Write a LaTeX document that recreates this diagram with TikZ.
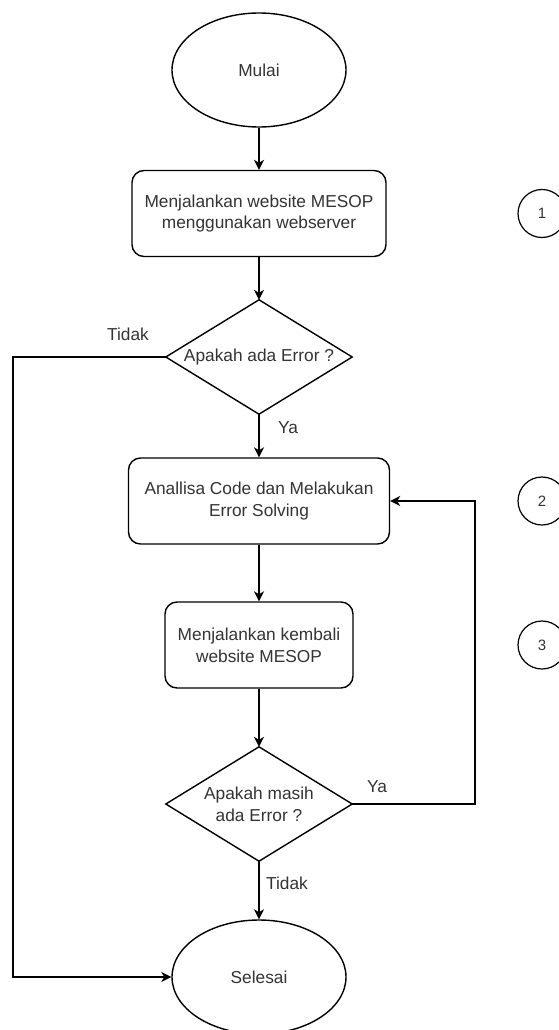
\documentclass[tikz,border=0pt]{standalone}
\usepackage{fontspec}
\setmainfont{Liberation Sans}
\usetikzlibrary{shapes.geometric,arrows.meta}
\definecolor{txt}{HTML}{333333}
\begin{document}
\begin{tikzpicture}[x=1pt,y=-1pt,
  every node/.style={font=\fontsize{17.3}{21.7}\selectfont, text=txt},
  line/.style={line width=1.4pt, draw=black},
  arr/.style={line, -{Stealth[length=10pt,width=10pt,inset=3pt]}},
  term/.style={ellipse, draw=black, line width=1.4pt, minimum width=174pt, minimum height=114pt, inner sep=0pt},
  proc/.style={rectangle, draw=black, line width=1.4pt, rounded corners=12pt, minimum height=86pt, inner sep=0pt, align=center},
  decbox/.style={rectangle, minimum width=186pt, minimum height=114pt, inner sep=0pt, align=center},
  num/.style={circle, draw=black, line width=1.2pt, minimum size=48pt, inner sep=0pt, font=\fontsize{15}{18}\selectfont},
  lbl/.style={inner sep=0pt}
]
\useasboundingbox (0,0) rectangle (558,1030);

\node[term] (start) at (259,70) {Mulai};
\node[proc, minimum width=254pt] (p1) at (259,213.5) {Menjalankan website MESOP\\menggunakan webserver};
\node[decbox] (d1) at (259,357) {Apakah ada Error ?};
\draw[line, line join=miter] (d1.north) -- (d1.east) -- (d1.south) -- (d1.west) -- cycle;
\node[proc, minimum width=261pt] (p2) at (259,501) {Anallisa Code dan Melakukan\\Error Solving};
\node[proc, minimum width=188pt] (p3) at (259,645) {Menjalankan kembali\\website MESOP};
\node[decbox] (d2) at (259,804) {Apakah masih\\ada Error ?};
\draw[line, line join=miter] (d2.north) -- (d2.east) -- (d2.south) -- (d2.west) -- cycle;
\node[term] (end) at (259,977) {Selesai};

\coordinate (ltop) at (13,357);
\coordinate (lbot) at (13,977);
\coordinate (rbot) at (475,804);
\coordinate (rtop) at (475,501);

\draw[arr] (start.south) -- (p1.north);
\draw[arr] (p1.south) -- (d1.north);
\draw[arr] (d1.south) -- (p2.north);
\draw[arr] (p2.south) -- (p3.north);
\draw[arr] (p3.south) -- (d2.north);
\draw[arr] (d2.south) -- (end.north);
\draw[arr] (d1.west) -- (ltop) -- (lbot) -- (end.west);
\draw[arr] (d2.east) -- (rbot) -- (rtop) -- (p2.east);

\node[lbl] (t1) at (128,334) {Tidak};
\node[lbl] (y1) at (288,428) {Ya};
\node[lbl] (y2) at (377,787) {Ya};
\node[lbl] (t2) at (287,883) {Tidak};

\node[num] (c1) at (542,213.5) {1};
\node[num] (c2) at (542,501) {2};
\node[num] (c3) at (542,645) {3};
\end{tikzpicture}
\end{document}
